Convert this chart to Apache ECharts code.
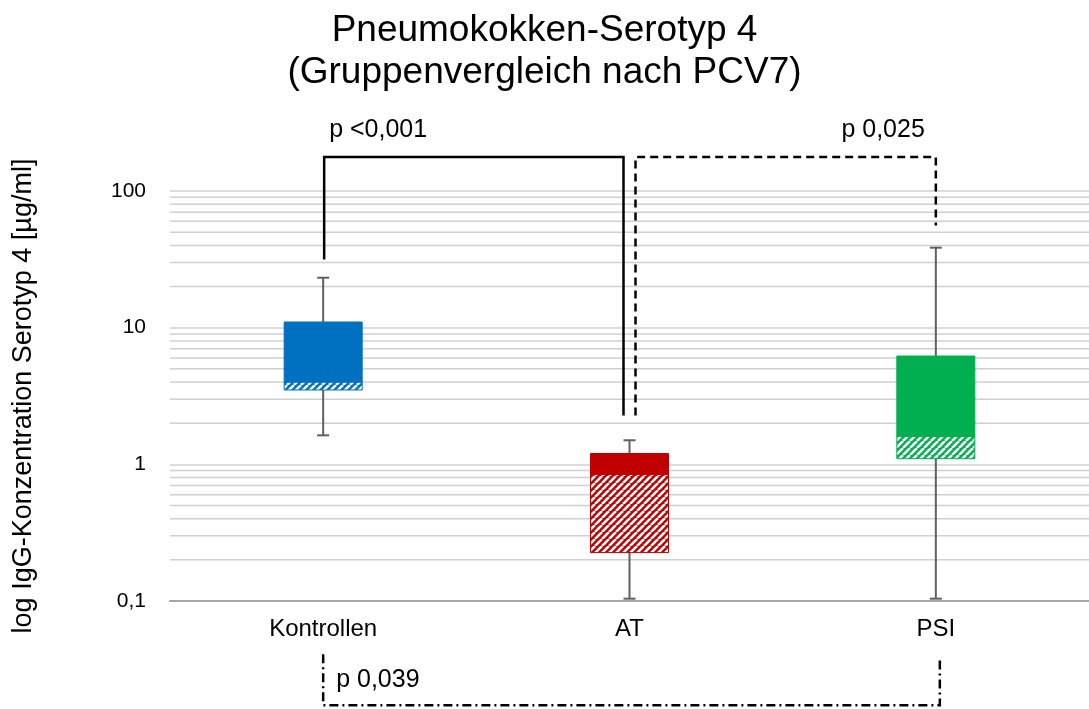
<!DOCTYPE html>
<html><head><meta charset="utf-8">
<script src="https://cdn.jsdelivr.net/npm/echarts@6/dist/echarts.min.js"></script>
<style>html,body{margin:0;padding:0;background:#fff}#c{width:1089px;height:709px}</style>
</head><body><div id="c"></div>
<script>
// ---- data ----
const categories = ['Kontrollen', 'AT', 'PSI'];
const whiskerMin = [1.63, 0.104, 0.104];
const q1 = [3.5, 0.226, 1.1];
const median = [4.0, 0.845, 1.6];
const q3 = [11.0, 1.2, 6.2];
const whiskerMax = [23.2, 1.5, 38.5];
const boxColors = ['#0070C0', '#C00000', '#00B050'];
const yTicks = [0.1, 1, 10, 100];
const yTickLabels = ['0,1', '1', '10', '100'];
const minorGrid = [0.2, 0.3, 0.4, 0.5, 0.6, 0.7, 0.8, 0.9, 2, 3, 4, 5, 6, 7, 8, 9, 20, 30, 40, 50, 60, 70, 80, 90];
// significance brackets
const bracketFrom = [0, 1, 0];
const bracketTo = [1, 2, 2];
const bracketStart = [31.6, 2.28, 0.0407];
const bracketBar = [177, 177, 0.0173];
const bracketEnd = [2.28, 56, 0.0375];
const pLabels = ['p <0,001', 'p 0,025', 'p 0,039'];

const FONT = 'Liberation Sans, Arial, sans-serif';

function makeHatch(color) {
  const p = 7;
  const c = document.createElement('canvas');
  c.width = p; c.height = p;
  const g = c.getContext('2d');
  g.fillStyle = color; g.fillRect(0, 0, p, p);
  g.strokeStyle = '#ffffff'; g.lineWidth = 2.6;
  for (let k = -1; k <= 1; k++) {
    g.beginPath(); g.moveTo(k * p, p); g.lineTo(k * p + p, 0); g.stroke();
  }
  return { image: c, repeat: 'repeat' };
}
const hatches = boxColors.map(makeHatch);

const boxData = categories.map((c, i) => [i, whiskerMin[i], q1[i], median[i], q3[i], whiskerMax[i]]);
const gridData = minorGrid.map(v => [0, v]);
const bracketData = pLabels.map((t, i) => [bracketFrom[i], bracketStart[i], bracketBar[i], bracketTo[i], bracketEnd[i]]);

const chart = echarts.init(document.getElementById('c'));
chart.setOption({
  animation: false,
  title: {
    text: 'Pneumokokken-Serotyp 4\n(Gruppenvergleich nach PCV7)',
    left: 'center', top: 5,
    textStyle: { fontFamily: FONT, fontSize: 37, fontWeight: 'normal', color: '#000', lineHeight: 42 }
  },
  grid: { left: 170, right: 0, top: 191, bottom: 108 },
  xAxis: {
    type: 'category', data: categories,
    axisLine: { lineStyle: { color: '#a6a6a6', width: 2 } },
    axisTick: { show: false },
    axisLabel: { fontFamily: FONT, fontSize: 24, color: '#000', margin: 16 },
    splitLine: { show: false }
  },
  yAxis: {
    type: 'log', logBase: 10, min: 0.1, max: 100,
    name: 'log IgG-Konzentration Serotyp 4 [µg/ml]',
    nameLocation: 'middle', nameGap: 133, nameRotate: 90,
    nameTextStyle: { fontFamily: FONT, fontSize: 27, color: '#000' },
    axisLine: { show: false }, axisTick: { show: false },
    axisLabel: {
      fontFamily: FONT, fontSize: 21, color: '#000', margin: 24,
      formatter: function (v) {
        for (let k = 0; k < yTicks.length; k++) {
          if (Math.abs(Math.log10(v) - Math.log10(yTicks[k])) < 1e-6) return yTickLabels[k];
        }
        return '';
      }
    },
    splitLine: { show: true, lineStyle: { color: '#d0d0d0', width: 1.5 } }
  },
  series: [
    {
      type: 'custom', name: 'grid', z: 1, silent: true,
      data: gridData, encode: { x: 0, y: 1 },
      renderItem: function (params, api) {
        const cs = params.coordSys;
        const y = api.coord([0, api.value(1)])[1];
        return { type: 'line', shape: { x1: cs.x, y1: y, x2: cs.x + cs.width, y2: y },
          style: { stroke: '#d0d0d0', lineWidth: 1.5 } };
      }
    },
    {
      type: 'custom', name: 'boxes', z: 5,
      data: boxData, encode: { x: 0, y: [1, 2, 3, 4, 5] },
      renderItem: function (params, api) {
        const i = params.dataIndex;
        const idx = api.value(0);
        const pMin = api.coord([idx, api.value(1)]);
        const pQ1 = api.coord([idx, api.value(2)]);
        const pMed = api.coord([idx, api.value(3)]);
        const pQ3 = api.coord([idx, api.value(4)]);
        const pMax = api.coord([idx, api.value(5)]);
        const x = pMin[0], w = 78, cap = 12;
        const col = boxColors[i];
        const ws = { stroke: '#606060', lineWidth: 2 };
        return { type: 'group', children: [
          { type: 'line', shape: { x1: x, y1: pMax[1], x2: x, y2: pMin[1] }, style: ws },
          { type: 'line', shape: { x1: x - cap / 2, y1: pMax[1], x2: x + cap / 2, y2: pMax[1] }, style: ws },
          { type: 'line', shape: { x1: x - cap / 2, y1: pMin[1], x2: x + cap / 2, y2: pMin[1] }, style: ws },
          { type: 'rect', shape: { x: x - w / 2, y: pMed[1], width: w, height: pQ1[1] - pMed[1] },
            style: { fill: hatches[i], stroke: col, lineWidth: 1 } },
          { type: 'rect', shape: { x: x - w / 2, y: pQ3[1], width: w, height: pMed[1] - pQ3[1] },
            style: { fill: col, stroke: col, lineWidth: 1 } }
        ] };
      }
    },
    {
      type: 'custom', name: 'brackets', z: 6, silent: true,
      data: bracketData, encode: { x: [0, 3], y: [1, 2, 4] },
      renderItem: function (params, api) {
        const i = params.dataIndex;
        const offFrom = [1, 6, 0][i], offTo = [-6, 0, 4][i];
        const dash = [null, [8, 5], [9, 4, 2, 4]][i];
        const a = api.coord([api.value(0), api.value(1)]);
        const b = api.coord([api.value(0), api.value(2)]);
        const d = api.coord([api.value(3), api.value(4)]);
        const x1 = a[0] + offFrom, x2 = d[0] + offTo;
        const pts = [[x1, a[1]], [x1, b[1]], [x2, b[1]], [x2, d[1]]];
        const ls = { stroke: '#000', lineWidth: 2.5, fill: null };
        if (dash) ls.lineDash = dash;
        let tx, ty, ta;
        if (i === 0) { tx = x1 + 5; ty = b[1] - 27; ta = 'left'; }
        else if (i === 1) { tx = x2 - 11; ty = b[1] - 27; ta = 'right'; }
        else { tx = x1 + 13; ty = b[1] - 25; ta = 'left'; }
        return { type: 'group', children: [
          { type: 'polyline', shape: { points: pts }, style: ls },
          { type: 'text', style: { text: pLabels[i], x: tx, y: ty, fill: '#000',
            font: '25px ' + FONT, textAlign: ta, textVerticalAlign: 'middle' } }
        ] };
      }
    }
  ]
});
</script></body></html>
